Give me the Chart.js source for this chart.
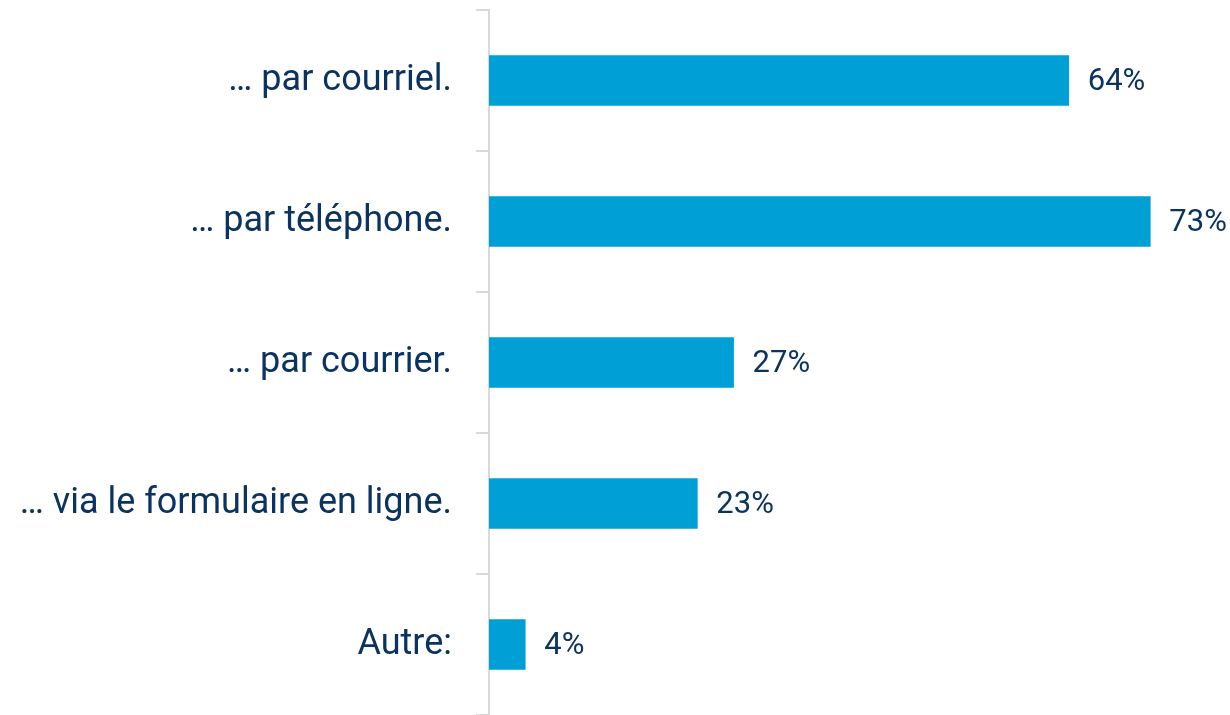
<!DOCTYPE html>
<html>
<head>
<meta charset="utf-8">
<script src="https://cdn.jsdelivr.net/npm/chart.js@4"></script>
<style>
  html, body { margin: 0; padding: 0; background: #fff; }
  #wrap { width: 1230px; height: 715px; }
</style>
</head>
<body>
<div id="wrap"><canvas id="barChart"></canvas></div>
<script>
// categories
let labels = ["\u2026 par courriel.", "\u2026 par t\u00e9l\u00e9phone.", "\u2026 par courrier.", "\u2026 via le formulaire en ligne.", "Autre:"]
// data collected (percent)
let values = [64, 73, 27, 23, 4]
let barColor = "#009fd6"
let textColor = "#0b3362"

// draws "64%" etc. right of each bar
let valueLabels = {
    id: "valueLabels",
    afterDatasetsDraw(chart) {
        let ctx = chart.ctx
        let meta = chart.getDatasetMeta(0)
        ctx.save()
        ctx.font = "31px Roboto"
        ctx.fillStyle = textColor
        ctx.textAlign = "left"
        ctx.textBaseline = "middle"
        meta.data.forEach((bar, i) => {
            ctx.fillText(values[i] + "%", bar.x + 19, bar.y + 2)
        })
        ctx.restore()
    }
}

let myChart = document.getElementById("barChart").getContext("2d")
let chart = new Chart(myChart, {
    type: "bar",
    data: {
        labels: labels,
        datasets: [{
            data: values,
            backgroundColor: barColor,
            barThickness: 50
        }]
    },
    options: {
        indexAxis: "y",
        responsive: true,
        maintainAspectRatio: false,
        animation: false,
        layout: { padding: { top: 10, right: 0, bottom: 0, left: 0 } },
        plugins: {
            legend: { display: false },
            tooltip: { enabled: false }
        },
        scales: {
            x: {
                display: false,
                min: 0,
                max: 81.8
            },
            y: {
                afterFit(scale) {
                    scale.width = 489
                    scale.paddingTop = 0
                    scale.paddingBottom = 0
                },
                grid: {
                    drawOnChartArea: false,
                    drawTicks: true,
                    tickLength: 13,
                    color: "#d9d9d9",
                    lineWidth: 2
                },
                border: { color: "#d9d9d9", width: 2 },
                ticks: {
                    color: textColor,
                    padding: 24,
                    font: { family: "Roboto", size: 36 }
                }
            }
        }
    },
    plugins: [valueLabels]
})
</script>
</body>
</html>
